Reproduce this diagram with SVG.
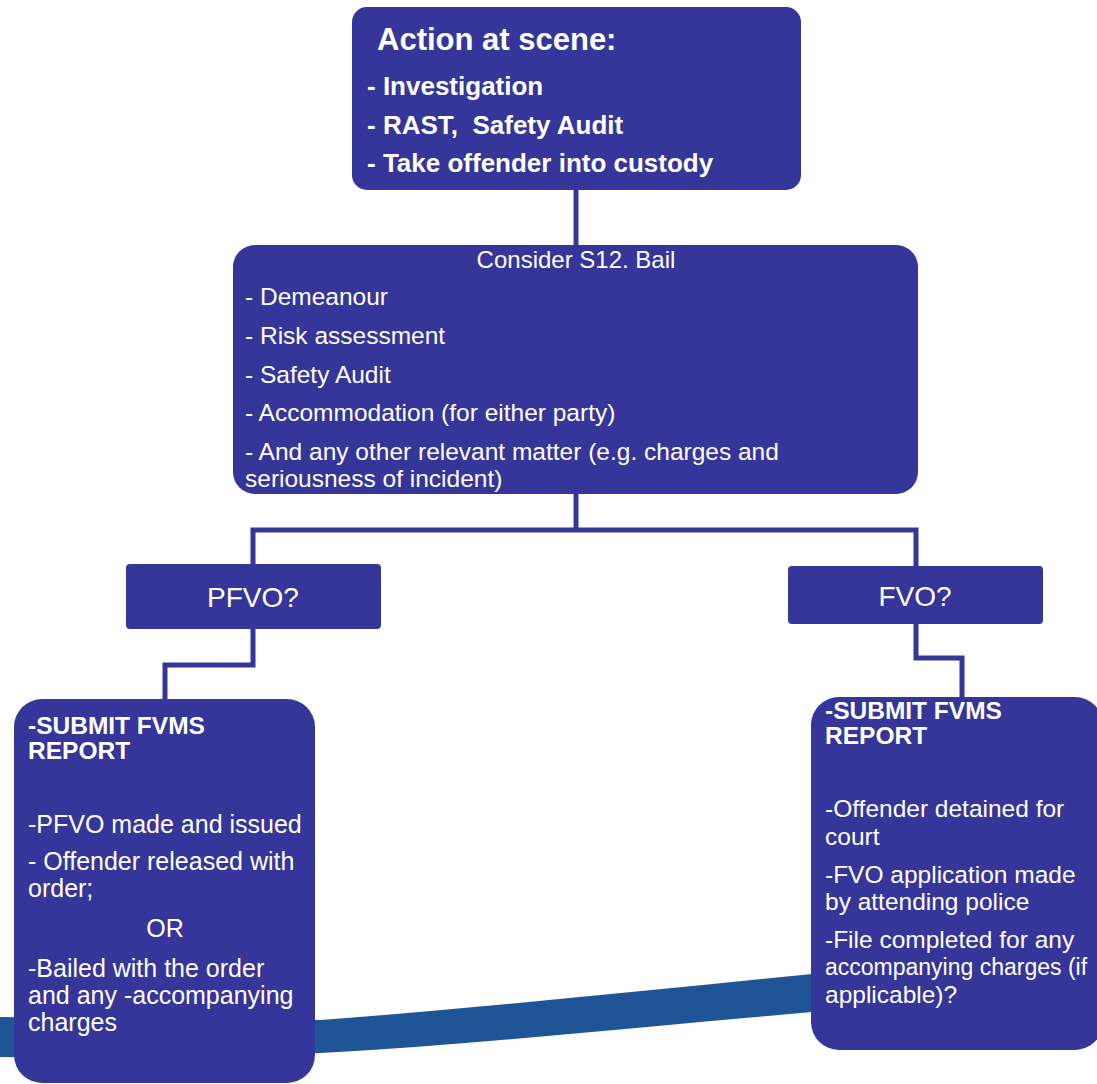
<svg xmlns="http://www.w3.org/2000/svg" width="1097" height="1084" viewBox="0 0 1097 1084">
<style>
.box{fill:#35359a;}
.t{font-family:"Liberation Sans",Arial,sans-serif;fill:#ffffff;}
.b{font-weight:bold;}
.conn{fill:none;stroke:#35359a;stroke-width:5;stroke-linejoin:miter;}
</style>
<rect width="1097" height="1084" fill="#ffffff"/>
<path id="band" d="M0,1017 C120,1019 240,1021 321,1020 C480,1008 650,990 812,974 L812,1012 C650,1026 480,1044 321,1053 C220,1058 110,1058 0,1057 Z" fill="#1f5496"/>
<g id="connectors">
<path class="conn" d="M576,190 V246"/>
<path class="conn" d="M576,494 V530"/>
<path class="conn" d="M253,565 V530 H916 V567"/>
<path class="conn" d="M253,629 V665 H165 V700"/>
<path class="conn" d="M916,624 V658 H962 V698"/>
</g>
<g id="action">
<rect class="box" x="352" y="7" width="449" height="183" rx="15"/>
<text class="t b" x="377" y="50" font-size="31">Action at scene:</text>
<text class="t b" x="367" y="95" font-size="26">- Investigation</text>
<text class="t b" x="367" y="134" font-size="26" xml:space="preserve">- RAST,  Safety Audit</text>
<text class="t b" x="367" y="172" font-size="26">- Take offender into custody</text>
</g>
<g id="consider">
<rect class="box" x="233" y="245" width="685" height="249" rx="22"/>
<text class="t" x="576" y="268" font-size="24" text-anchor="middle">Consider S12. Bail</text>
<text class="t" x="245" y="305" font-size="24.5">- Demeanour</text>
<text class="t" x="245" y="344" font-size="24.5">- Risk assessment</text>
<text class="t" x="245" y="383" font-size="24.5">- Safety Audit</text>
<text class="t" x="245" y="421" font-size="24.5">- Accommodation (for either party)</text>
<text class="t" x="245" y="460" font-size="24.5">- And any other relevant matter (e.g. charges and</text>
<text class="t" x="245" y="487" font-size="24.5">seriousness of incident)</text>
</g>
<g id="pfvo">
<rect class="box" x="126" y="564" width="255" height="65" rx="4"/>
<text class="t" x="253" y="607" font-size="28" text-anchor="middle">PFVO?</text>
</g>
<g id="fvo">
<rect class="box" x="788" y="566" width="255" height="58" rx="4"/>
<text class="t" x="915" y="606" font-size="28" text-anchor="middle">FVO?</text>
</g>
<g id="pfvo-detail">
<rect class="box" x="14" y="699" width="301" height="384" rx="28"/>
<text class="t b" x="28" y="734" font-size="24.5">-SUBMIT FVMS</text>
<text class="t b" x="28" y="759" font-size="24.5">REPORT</text>
<text class="t" x="28" y="833" font-size="25">-PFVO made and issued</text>
<text class="t" x="28" y="870" font-size="25">- Offender released with</text>
<text class="t" x="28" y="897" font-size="25">order;</text>
<text class="t" x="165" y="937" font-size="25" text-anchor="middle">OR</text>
<text class="t" x="28" y="977" font-size="25">-Bailed with the order</text>
<text class="t" x="28" y="1004" font-size="25">and any -accompanying</text>
<text class="t" x="28" y="1031" font-size="25">charges</text>
</g>
<g id="fvo-detail">
<rect class="box" x="811" y="697" width="292" height="353" rx="28"/>
<text class="t b" x="825" y="719" font-size="24.5">-SUBMIT FVMS</text>
<text class="t b" x="825" y="744" font-size="24.5">REPORT</text>
<text class="t" x="825" y="817" font-size="24.5">-Offender detained for</text>
<text class="t" x="825" y="845" font-size="24.5">court</text>
<text class="t" x="825" y="883" font-size="24.5">-FVO application made</text>
<text class="t" x="825" y="910" font-size="24.5">by attending police</text>
<text class="t" x="825" y="948" font-size="24.5">-File completed for any</text>
<text class="t" x="825" y="975" font-size="23">accompanying charges (if</text>
<text class="t" x="825" y="1003" font-size="24.5">applicable)?</text>
</g>
</svg>
